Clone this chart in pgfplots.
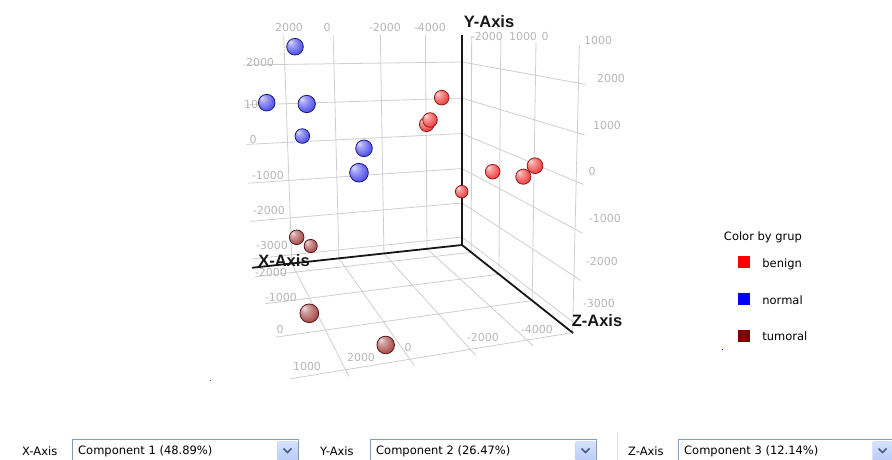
\documentclass[border=0pt]{standalone}
\usepackage{pgfplots}
\pgfplotsset{compat=1.18}
\usepackage{fontspec}
\setmainfont{DejaVu Sans}
\newfontfamily\titlefont{Liberation Sans}

\definecolor{gridc}{RGB}{206,206,206}
\definecolor{tickc}{RGB}{182,182,182}
\definecolor{axisc}{RGB}{22,22,22}
\definecolor{benign}{RGB}{255,0,0}
\definecolor{normal}{RGB}{0,0,255}
\definecolor{tumoral}{RGB}{128,0,0}
\definecolor{redbody}{RGB}{240,72,72}
\definecolor{rededge}{RGB}{140,24,24}
\definecolor{bluebody}{RGB}{88,88,236}
\definecolor{blueedge}{RGB}{20,20,120}
\definecolor{brownbody}{RGB}{172,82,82}
\definecolor{brownedge}{RGB}{80,20,20}
\definecolor{boxc}{RGB}{127,157,185}
\definecolor{btntop}{RGB}{214,226,253}
\definecolor{btnbot}{RGB}{180,200,246}
\definecolor{btnedge}{RGB}{184,202,240}
\definecolor{chev}{RGB}{70,92,150}

% shaded sphere marks with a thin dark rim
\newcommand\defball[3]{%
  \pgfdeclareradialshading{#1shade}{\pgfqpoint{-15bp}{15bp}}{%
    color(0bp)=(white!80!#2); color(10bp)=(#2!55!white);
    color(28bp)=(#2); color(50bp)=(#2!70!black)}%
  \pgfdeclareplotmark{#1}{%
    \pgfpathcircle{\pgfpointorigin}{\pgfplotmarksize}%
    \pgfshadepath{#1shade}{0}%
    \pgfsetstrokecolor{#3}\pgfsetlinewidth{0.75pt}%
    \pgfusepath{stroke}}}
\defball{ballR}{redbody}{rededge}
\defball{ballB}{bluebody}{blueedge}
\defball{ballT}{brownbody}{brownedge}

\pgfplotsset{
  table/proj/.style={
    x expr={pjx(\thisrow{X},\thisrow{Y},\thisrow{Z})},
    y expr={pjy(\thisrow{X},\thisrow{Y},\thisrow{Z})}},
  gridl/.style={draw=gridc, line width=0.8pt, mark=none, forget plot},
  axl/.style={draw=axisc, line width=1.8pt, mark=none, forget plot},
  % sphere radius shrinks with distance: 6pt at the back corner
  balls/.style={scatter, only marks, mark=#1, forget plot,
    point meta={600/pjw(\thisrow{X},\thisrow{Y},\thisrow{Z})},
    point meta min=0, point meta max=1000,
    scatter/@pre marker code/.code={%
      \pgfmathsetlength\pgfplotmarksize{\pgfplotspointmetatransformed/100}},
    scatter/@post marker code/.code={}},
}
\tikzset{
  tickl/.style={font=\fontsize{11}{13}\selectfont, text=tickc, inner sep=0pt},
  axt/.style={font=\titlefont\bfseries\fontsize{16.5}{18}\selectfont, text=axisc, inner sep=0pt},
}

% one straight segment of the box between two points in data space
\newcommand\seg[7][gridl]{%
  \addplot[#1] table[row sep=\\, proj] {X Y Z\\ #2 #3 #4\\ #5 #6 #7\\};}
\newcommand\tl[3]{\node[tickl] at (axis cs:#1,#2) {#3};}

\begin{document}
\begin{tikzpicture}
\begin{axis}[
  at={(0,0)}, anchor=south west,
  x=1pt, y=1pt, xmin=0, xmax=892, ymin=0, ymax=460,
  hide axis, clip=false,
  declare function={
    pkx(\a)=-((\a+5692)/1000)/94.787;
    pky(\b)=-((\b+3237)/1000)/141.323;
    pkz(\c)=-((\c+2375)/1000)/12.5;
    pjw(\a,\b,\c)=1+pkx(\a)+pky(\b)+pkz(\c);
    pjx(\a,\b,\c)=(462+2388*pkx(\a)+462*pky(\b)+163*pkz(\c))/pjw(\a,\b,\c);
    pjy(\a,\b,\c)=460-(245+36*pkx(\a)+5000*pky(\b)+8*pkz(\c))/pjw(\a,\b,\c);
  },
  legend style={at={(0.82735,0.4425)}, anchor=north west, draw=none, fill=none,
    inner sep=0pt, outer sep=0pt, row sep=22.8pt, column sep=13pt,
    nodes={inner sep=0pt, text height=8.5pt, text depth=3pt},
    font=\fontsize{11.5}{13}\selectfont},
  legend cell align=left,
]
% back wall (component 3 at its minimum)
\seg{2000}{-3237}{-2375}{2000}{2740}{-2375}
\seg{0}{-3237}{-2375}{0}{2740}{-2375}
\seg{-2000}{-3237}{-2375}{-2000}{2740}{-2375}
\seg{-4000}{-3237}{-2375}{-4000}{2740}{-2375}
\seg{3620}{2000}{-2375}{-5692}{2000}{-2375}
\seg{3620}{1000}{-2375}{-5692}{1000}{-2375}
\seg{3620}{0}{-2375}{-5692}{0}{-2375}
\seg{3620}{-1000}{-2375}{-5692}{-1000}{-2375}
\seg{3620}{-2000}{-2375}{-5692}{-2000}{-2375}
\seg{3620}{-3000}{-2375}{-5692}{-3000}{-2375}
% side wall (component 1 at its minimum)
\seg{-5692}{-3237}{-2000}{-5692}{2740}{-2000}
\seg{-5692}{-3237}{-1000}{-5692}{2740}{-1000}
\seg{-5692}{-3237}{0}{-5692}{2740}{0}
\seg{-5692}{-3237}{1000}{-5692}{2740}{1000}
\seg{-5692}{2000}{-2375}{-5692}{2000}{1150}
\seg{-5692}{1000}{-2375}{-5692}{1000}{1150}
\seg{-5692}{0}{-2375}{-5692}{0}{1150}
\seg{-5692}{-1000}{-2375}{-5692}{-1000}{1150}
\seg{-5692}{-2000}{-2375}{-5692}{-2000}{1150}
\seg{-5692}{-3000}{-2375}{-5692}{-3000}{1150}
% floor (component 2 at its minimum)
\seg{2000}{-3237}{-2375}{2000}{-3237}{1150}
\seg{0}{-3237}{-2375}{0}{-3237}{1150}
\seg{-2000}{-3237}{-2375}{-2000}{-3237}{1150}
\seg{-4000}{-3237}{-2375}{-4000}{-3237}{1150}
\seg{3620}{-3237}{-2000}{-5692}{-3237}{-2000}
\seg{3620}{-3237}{-1000}{-5692}{-3237}{-1000}
\seg{3620}{-3237}{0}{-5692}{-3237}{0}
\seg{3620}{-3237}{1000}{-5692}{-3237}{1000}
% the three axes
\seg[axl]{-5692}{-3237}{-2375}{3620}{-3237}{-2375}
\seg[axl]{-5692}{-3237}{-2375}{-5692}{2740}{-2375}
\seg[axl]{-5692}{-3237}{-2375}{-5692}{-3237}{1010}

% tick labels
\tl{289}{432}{2000}\tl{327}{432}{0}\tl{385}{432}{-2000}\tl{430}{432}{-4000}
\tl{487}{423}{-2000}\tl{523}{423}{1000}\tl{545}{423}{0}\tl{598}{419}{1000}
\tl{611}{381}{2000}\tl{607}{334}{1000}\tl{592}{288}{0}
\tl{605}{241}{-1000}\tl{602}{198}{-2000}\tl{599}{157}{-3000}
\tl{260}{397}{2000}\tl{258}{355}{1000}\tl{253}{320}{0}
\tl{268}{284}{-1000}\tl{269}{249}{-2000}\tl{272}{214}{-3000}
\tl{271}{187}{-2000}\tl{281}{162}{-1000}\tl{280}{131}{0}\tl{307}{94}{1000}
\tl{361}{103}{2000}\tl{408}{113}{0}\tl{483}{122}{-2000}\tl{537}{130}{-4000}
\node[axt] at (axis cs:284,199) {X-Axis};
\node[axt] at (axis cs:489,438) {Y-Axis};
\node[axt] at (axis cs:597,139) {Z-Axis};

% samples: PCA scores (component 1, 2, 3), listed back to front
\addplot[balls=ballR] table[row sep=\\, proj] {
X Y Z\\
-5202 -1472 -1971\\
-2525 746 -895\\
-2649 847 -887\\
-3105 1369 -874\\
-4733 -336 -508\\
-5345 -303 -55\\
-5297 76 280\\
};
\addplot[balls=ballB] table[row sep=\\, proj] {
X Y Z\\
1848 437 -1444\\
2469 2615 -469\\
3441 1466 -495\\
538 560 -32\\
2392 1530 13\\
1372 429 869\\
};
\addplot[balls=ballT] table[row sep=\\, proj] {
X Y Z\\
1273 -2717 -2214\\
2257 -1917 -1290\\
579 -3067 783\\
2957 -2132 886\\
};

\node[font=\fontsize{11.5}{13}\selectfont, inner sep=0pt] at (axis cs:763,223) {Color by grup};
\addlegendimage{legend image code/.code={\fill[benign] (0pt,-3pt) rectangle (11pt,8pt);}}
\addlegendentry{benign}
\addlegendimage{legend image code/.code={\fill[normal] (0pt,-3pt) rectangle (11pt,8pt);}}
\addlegendentry{normal}
\addlegendimage{legend image code/.code={\fill[tumoral] (0pt,-3pt) rectangle (11pt,8pt);}}
\addlegendentry{tumoral}
\end{axis}

% selector bar below the plot
\begin{scope}[x=1pt, y=1pt, font=\fontsize{11.5}{13}\selectfont]
  \fill[black!70] (209.5,78.5) rectangle (210.5,79.5);
  \fill[normal] (721.5,109.5) rectangle (722.5,110.5);
  \draw[black!12, line width=0.8pt] (617,0) -- (617,28);
  \foreach \lx/\bx/\ex/\lab/\txt in {22/72.5/298.5/X-Axis/{Component 1 (48.89\%)},
                                      320/370.5/596.5/Y-Axis/{Component 2 (26.47\%)},
                                      628/678.5/900/Z-Axis/{Component 3 (12.14\%)}}{
    \node[anchor=west, inner sep=0pt] at (\lx,9) {\lab};
    \draw[boxc, fill=white, line width=0.8pt] (\bx,-5) rectangle (\ex,20.5);
    \node[anchor=west, inner sep=0pt] at (\bx+5.5,9) {\txt};
  }
  \foreach \bx in {277.5,575.5,872.5}{
    \draw[btnedge, rounded corners=2pt, top color=btntop, bottom color=btnbot]
      (\bx,-4) rectangle (\bx+20,18.5);
    \draw[chev, line width=1.5pt] (\bx+6,11.5) -- (\bx+10,7.5) -- (\bx+14,11.5);
  }
  \pgfresetboundingbox
  \path[use as bounding box] (0,0) rectangle (892,460);
\end{scope}
\end{tikzpicture}
\end{document}
